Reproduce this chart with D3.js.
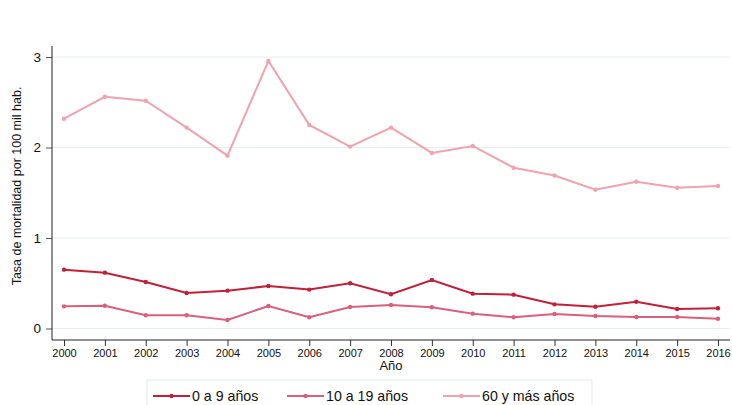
<!DOCTYPE html>
<html><head><meta charset="utf-8">
<script src="https://cdn.jsdelivr.net/npm/d3@7"></script>
<style>body{margin:0;background:#fff}svg{display:block;font-family:"Liberation Sans",Arial,sans-serif}</style>
</head><body><svg id="c" width="732" height="405"></svg>
<script>
(function(){
const years = [2000,2001,2002,2003,2004,2005,2006,2007,2008,2009,2010,2011,2012,2013,2014,2015,2016];
const s0a9 = [0.65,0.617,0.514,0.392,0.418,0.47,0.43,0.5,0.378,0.536,0.385,0.374,0.267,0.241,0.296,0.215,0.223];
const s10a19 = [0.245,0.252,0.146,0.146,0.094,0.249,0.124,0.238,0.26,0.234,0.164,0.124,0.16,0.138,0.127,0.127,0.108];
const s60 = [2.318,2.56,2.517,2.22,1.91,2.956,2.25,2.01,2.22,1.94,2.017,1.777,1.69,1.534,1.622,1.556,1.575];
const seriesNames = ["0 a 9 años","10 a 19 años","60 y más años"];
const colors = ["#c0203a","#d9607a","#eea3ae"];
const yTicks = [0,1,2,3];

const svg = d3.select("#c");
const x = d3.scaleLinear().domain([2000,2016]).range([64,718]);
const y = d3.scaleLinear().domain([0,3]).range([328.5,57]);
const mLeft = 52, mRight = 730, mBottom = 340, mTop = 46;

svg.append("g").selectAll("line").data(yTicks).join("line")
  .attr("x1",mLeft).attr("x2",mRight).attr("y1",d=>y(d)).attr("y2",d=>y(d))
  .attr("stroke","#e6eef0").attr("stroke-width",1);

const ya = svg.append("g").attr("transform",`translate(${mLeft},0)`)
  .call(d3.axisLeft(y).tickValues(yTicks).tickFormat(d3.format("d")).tickSize(6).tickPadding(5));
ya.select(".domain").remove();
ya.selectAll("line").attr("stroke","#555");
ya.selectAll("text").attr("font-size",13.5).attr("fill","#111").attr("font-family","Liberation Sans, Arial, sans-serif");
svg.append("line").attr("x1",mLeft).attr("x2",mLeft).attr("y1",mTop).attr("y2",mBottom).attr("stroke","#222");

const xa = svg.append("g").attr("transform",`translate(0,${mBottom})`)
  .call(d3.axisBottom(x).tickValues(years).tickFormat(d3.format("d")).tickSize(6).tickPadding(3));
xa.select(".domain").remove();
xa.selectAll("line").attr("stroke","#333");
xa.selectAll("text").attr("font-size",11).attr("fill","#111").attr("font-family","Liberation Sans, Arial, sans-serif");
svg.append("line").attr("x1",mLeft).attr("x2",mRight).attr("y1",mBottom).attr("y2",mBottom).attr("stroke","#222");

svg.append("text").attr("x",391).attr("y",370).attr("text-anchor","middle").attr("font-size",13).attr("fill","#111").text("Año");
svg.append("text").attr("transform","translate(21,186) rotate(-90)").attr("text-anchor","middle").attr("font-size",12.5).attr("fill","#111").text("Tasa de mortalidad por 100 mil hab.");

const data = [s0a9,s10a19,s60];
const line = d3.line().x((d,i)=>x(years[i])).y(d=>y(d));
[2,1,0].forEach(k=>{
  svg.append("path").datum(data[k]).attr("d",line).attr("fill","none").attr("stroke",colors[k]).attr("stroke-width",2);
  svg.append("g").selectAll("circle").data(data[k]).join("circle")
    .attr("cx",(d,i)=>x(years[i])).attr("cy",d=>y(d)).attr("r",2.2).attr("fill",colors[k]);
});

svg.append("rect").attr("x",147).attr("y",380).attr("width",445).attr("height",40).attr("fill","#fff").attr("stroke","#e3eaec");
const lx = [153,287,443];
seriesNames.forEach((n,k)=>{
  svg.append("line").attr("x1",lx[k]).attr("x2",lx[k]+37).attr("y1",396).attr("y2",396).attr("stroke",colors[k]).attr("stroke-width",2);
  svg.append("circle").attr("cx",lx[k]+18.5).attr("cy",396).attr("r",2.2).attr("fill",colors[k]);
  svg.append("text").attr("x",lx[k]+39).attr("y",401).attr("font-size",14.2).attr("fill","#111").text(n);
});
})();
</script></body></html>
